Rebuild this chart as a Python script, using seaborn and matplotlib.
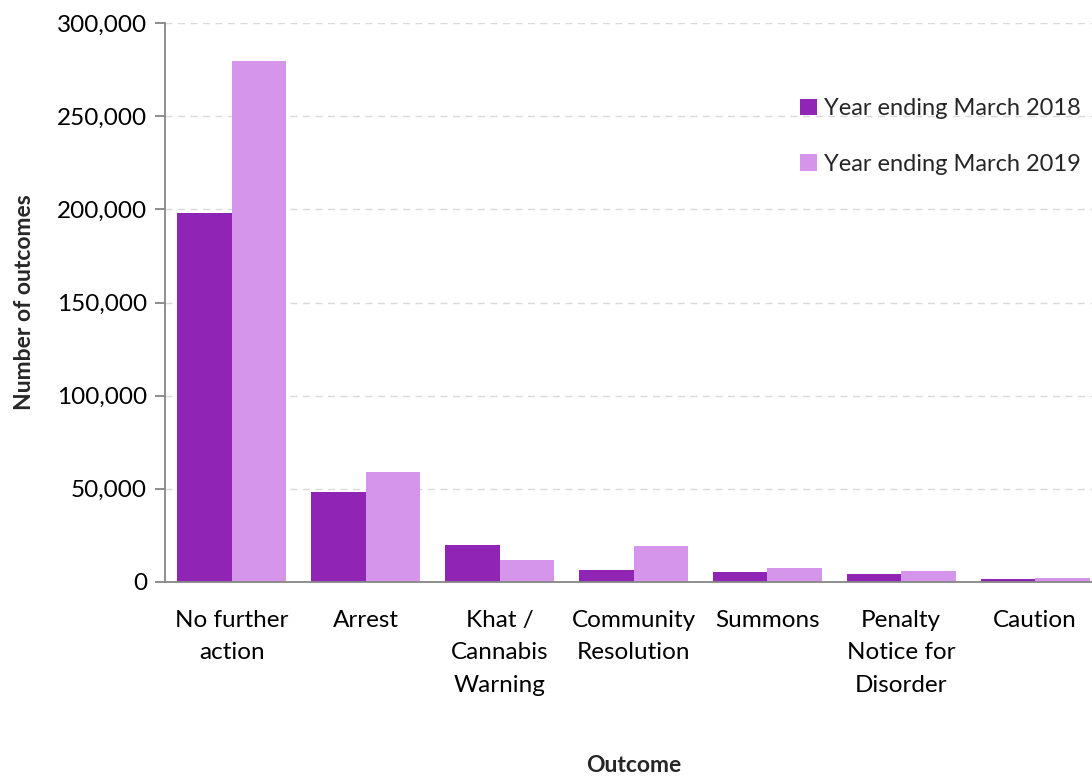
import matplotlib
matplotlib.use("Agg")
import matplotlib.pyplot as plt
import seaborn as sns
import pandas as pd
from matplotlib.ticker import FuncFormatter

categories = ["No further\naction", "Arrest", "Khat /\nCannabis\nWarning", "Community\nResolution",
              "Summons", "Penalty\nNotice for\nDisorder", "Caution"]
series = ["Year ending March 2018", "Year ending March 2019"]
values_2018 = [198000, 48300, 19900, 6300, 5400, 4500, 1450]
values_2019 = [279800, 59000, 11700, 19200, 7500, 5900, 2150]
colors = ["#9024B4", "#D495EB"]

df = pd.DataFrame({
    "Outcome": categories * 2,
    "Year": [series[0]] * len(categories) + [series[1]] * len(categories),
    "Value": values_2018 + values_2019,
})

sns.set_theme(style="white")
plt.rcParams['font.family'] = ['Lato', 'DejaVu Sans']

fig = plt.figure(figsize=(10.92, 7.76), dpi=100)
ax = fig.add_axes([165/1092, 1 - 582/776, (1102-165)/1092, (582-23)/776])

sns.barplot(data=df, x="Outcome", y="Value", hue="Year", palette=colors, ax=ax,
            width=0.815, saturation=1, dodge=True, edgecolor="none")

ax.set_ylim(0, 300000)
ax.set_xlim(-0.5, len(categories) - 0.5)
ax.set_yticks(range(0, 300001, 50000))
ax.yaxis.set_major_formatter(FuncFormatter(lambda v, p: f"{int(v):,}"))
ax.grid(axis="y", color="#D9D9D9", linestyle=(0, (5, 4)), linewidth=1)
ax.set_axisbelow(True)

for s in ["top", "right"]:
    ax.spines[s].set_visible(False)
for s in ["left", "bottom"]:
    ax.spines[s].set_color("#868686")
    ax.spines[s].set_linewidth(1.3)

ax.set_xticks([i - 0.5 for i in range(len(categories) + 1)], minor=True)
ax.tick_params(axis="x", which="major", length=0, labelsize=17.5, colors="black", pad=20)
ax.tick_params(axis="x", which="minor", length=10, width=1.3, color="#868686", direction="out")
ax.tick_params(axis="y", which="major", length=7, width=1.3, color="#868686", direction="out",
               labelsize=17.5, labelcolor="black", left=True, pad=6)
for lab in ax.get_xticklabels():
    lab.set_linespacing(1.68)
    lab.set_verticalalignment("top")

ax.set_xlabel("")
ax.set_ylabel("Number of outcomes", fontsize=16.5, fontweight="bold", labelpad=16)
fig.text(634/1092, 1 - 766/776, "Outcome", fontsize=16.5, fontweight="bold", ha="center", va="center")

leg = ax.legend(loc="upper left", bbox_to_anchor=(626/937, 1 - 66/559), frameon=False,
                fontsize=17, handlelength=0.7, handleheight=0.7, handletextpad=0.3,
                labelspacing=1.45, borderaxespad=0)

fig.savefig("out.png", dpi=100, facecolor="white")
